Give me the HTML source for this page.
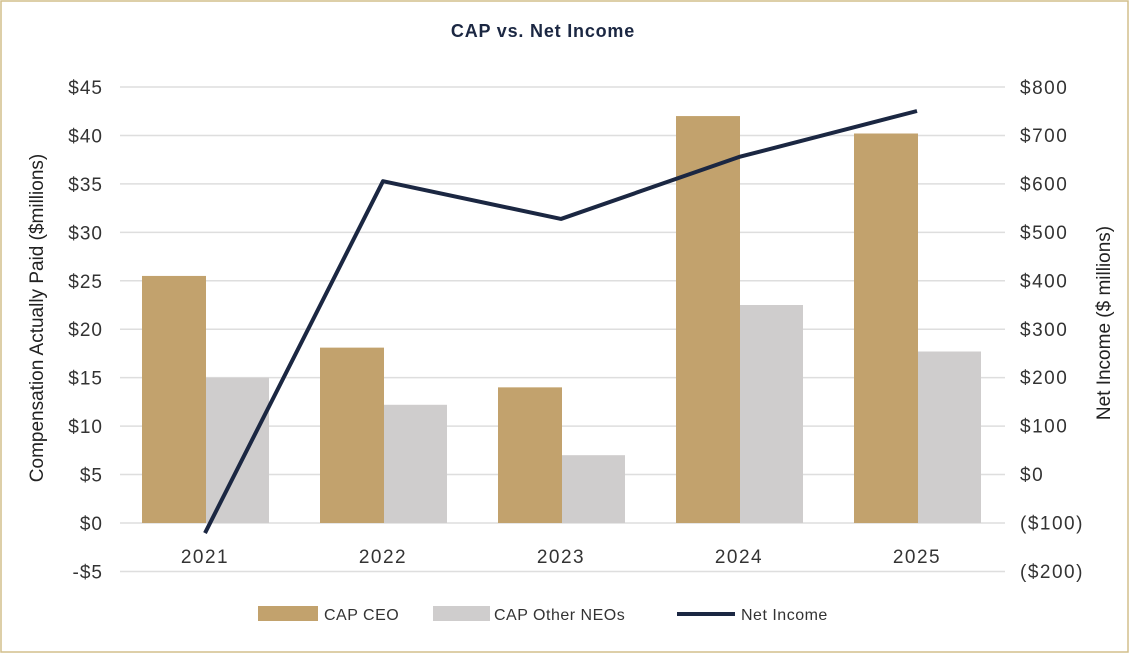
<!DOCTYPE html>
<html><head><meta charset="utf-8"><style>
body{margin:0;background:#fff;}
svg{display:block;font-family:"Liberation Sans",sans-serif;}
</style></head><body>
<svg id="chart" width="1130" height="654">
<rect x="1" y="1" width="1127" height="651" fill="#fff" stroke="#d2bf8c" stroke-width="1.5"/>
<text x="543" y="37" text-anchor="middle" font-size="18" letter-spacing="0.8" font-weight="bold" fill="#1b2742">CAP vs. Net Income</text>
<g id="grid"></g><g id="bars"></g><g id="line"></g><g id="labels"></g>
<text transform="translate(43,318) rotate(-90)" text-anchor="middle" font-size="19" fill="#222">Compensation Actually Paid ($millions)</text>
<text transform="translate(1110,323) rotate(-90)" text-anchor="middle" font-size="19" fill="#222">Net Income ($ millions)</text>
<g>
<rect x="258" y="606" width="60" height="15" fill="#c2a26d"/>
<text x="324" y="620" font-size="16" letter-spacing="0.5" fill="#333">CAP CEO</text>
<rect x="433" y="606" width="57" height="15" fill="#cfcdcd"/>
<text x="494" y="620" font-size="16" letter-spacing="0.5" fill="#333">CAP Other NEOs</text>
<line x1="677" y1="614" x2="735" y2="614" stroke="#1b2742" stroke-width="4"/>
<text x="741" y="620" font-size="16" letter-spacing="0.5" fill="#333">Net Income</text>
</g>
</svg>
<script>
const years=["2021","2022","2023","2024","2025"];
const capCeo=[25.5,18.1,14.0,42.0,40.2];
const capOther=[15.0,12.2,7.0,22.5,17.7];
const netIncome=[-122,605,527,655,750];
const leftTicks=[-5,0,5,10,15,20,25,30,35,40,45];
const rightTicks=[-200,-100,0,100,200,300,400,500,600,700,800];
const NS="http://www.w3.org/2000/svg";
const yL=v=>523-v*(436/45);
const yR=v=>474-v*0.484;
const xC=i=>205+i*178;
function mk(t,a,p){const e=document.createElementNS(NS,t);for(const k in a)e.setAttribute(k,a[k]);document.getElementById(p).appendChild(e);return e;}
leftTicks.forEach((v,i)=>{
 const g=mk('line',{x1:120,x2:1005,y1:yL(v),y2:yL(v),stroke:'#dedede','stroke-width':1.5},'grid');
 
 
 const t=mk('text',{x:103,y:yL(v)+7,'text-anchor':'end','font-size':19,'letter-spacing':1,fill:'#333'},'labels');
 t.textContent=(v<0?'-$':'$')+Math.abs(v);
 
 
});
rightTicks.forEach(v=>{
 const t=mk('text',{x:1020,y:yR(v)+7,'font-size':19,'letter-spacing':1.5,fill:'#333'},'labels');
 t.textContent=v<0?'($'+Math.abs(v)+')':'$'+v;
 
 
});
years.forEach((y,i)=>{
 const b1=mk('rect',{x:xC(i)-63,y:yL(capCeo[i]),width:64,height:yL(0)-yL(capCeo[i]),fill:'#c2a26d'},'bars');
 
 
 const b2=mk('rect',{x:xC(i)+1,y:yL(capOther[i]),width:63,height:yL(0)-yL(capOther[i]),fill:'#cfcdcd'},'bars');
 
 
 const t=mk('text',{x:xC(i),y:563,'text-anchor':'middle','font-size':19,'letter-spacing':1.5,fill:'#333'},'labels');
 t.textContent=y;
 
 
});
const pl=mk('polyline',{points:netIncome.map((v,i)=>xC(i)+','+yR(v)).join(' '),fill:'none',stroke:'#1b2742','stroke-width':4,'stroke-linejoin':'round'},'line');


</script>
</body></html>
